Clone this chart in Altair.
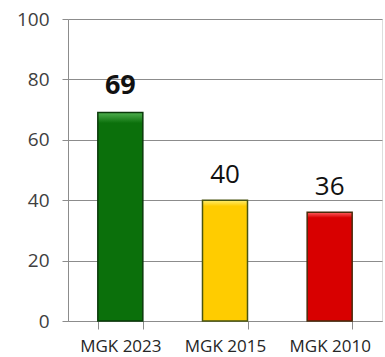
import altair as alt
import pandas as pd

categories = ["MGK 2023", "MGK 2015", "MGK 2010"]
values = [69, 40, 36]
colors = ["#0b700b", "#ffcc00", "#d80000"]
highlight_colors = ["#4fb04f", "#ffee70", "#ff6060"]
stroke_colors = ["#0a3a0a", "#4a5510", "#4a2a0a"]
bold_flags = [True, False, False]

df = pd.DataFrame({"cat": categories, "val": values, "bold": bold_flags})

x_enc = alt.X(
    "cat:N",
    sort=categories,
    title=None,
    scale=alt.Scale(paddingInner=0.57, paddingOuter=0.285),
    axis=alt.Axis(
        labelAngle=0,
        tickBand="extent",
        tickSize=8,
        tickColor="#8c8c8c",
        domainColor="#8c8c8c",
        labelFont="Open Sans",
        labelFontSize=17,
        labelColor="#262626",
        labelPadding=9,
        grid=False,
    ),
)

y_enc = alt.Y(
    "val:Q",
    title=None,
    scale=alt.Scale(domain=[0, 100]),
    axis=alt.Axis(
        values=[0, 20, 40, 60, 80, 100],
        tickSize=6,
        tickColor="#8c8c8c",
        domainColor="#8c8c8c",
        gridColor="#8c8c8c",
        gridWidth=1,
        labelFont="Open Sans",
        labelFontSize=19,
        labelColor="#404040",
        labelPadding=13,
    ),
)

bar_layers = []
for i, cat in enumerate(categories):
    grad = alt.Gradient(
        gradient="linear",
        x1=0, x2=0, y1=0, y2=1,
        stops=[
            alt.GradientStop(color=highlight_colors[i], offset=0),
            alt.GradientStop(color=colors[i], offset=0.05),
            alt.GradientStop(color=colors[i], offset=1),
        ],
    )
    layer = alt.Chart(df).transform_filter(
        alt.datum.cat == cat
    ).mark_bar(fill=grad, stroke=stroke_colors[i], strokeWidth=1.5).encode(
        x=x_enc,
        y=y_enc,
    )
    bar_layers.append(layer)

labels_bold = alt.Chart(df).transform_filter("datum.bold").mark_text(
    font="Open Sans", fontSize=27, fontWeight="bold", color="#111111",
    baseline="alphabetic", dy=-19,
).encode(x=alt.X("cat:N", sort=categories), y="val:Q", text="val:Q")

labels_reg = alt.Chart(df).transform_filter("!datum.bold").mark_text(
    font="Open Sans", fontSize=26, color="#111111",
    baseline="alphabetic", dy=-17,
).encode(x=alt.X("cat:N", sort=categories), y="val:Q", text="val:Q")

chart = alt.layer(*bar_layers, labels_bold, labels_reg).properties(
    width=314,
    height=302,
    autosize=alt.AutoSizeParams(type="none"),
    padding={"left": 68, "top": 19, "right": 3, "bottom": 36},
).configure_view(stroke=None).configure(background="white")

chart.save("out.html", embed_options={"renderer": "svg", "actions": False})
